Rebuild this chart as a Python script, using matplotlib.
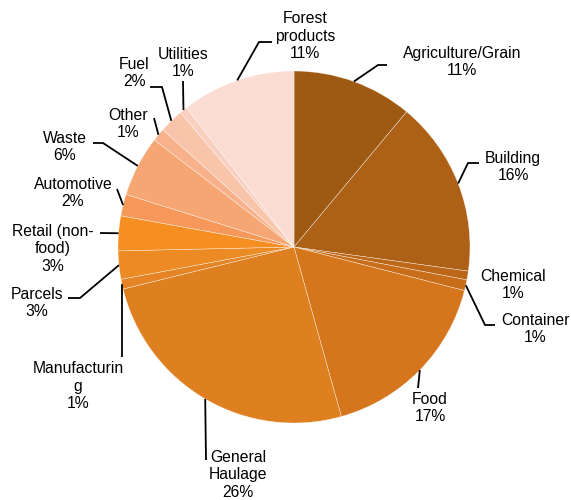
import numpy as np
import matplotlib
matplotlib.use('Agg')
import matplotlib.pyplot as plt

# slice data, clockwise from 12 o'clock
categories = ["Agriculture/Grain", "Building", "Chemical", "Container", "Food",
              "General\nHaulage", "Manufacturin\ng", "Parcels", "Retail (non-\nfood)",
              "Automotive", "Waste", "Other", "Fuel", "Utilities", "Forest\nproducts"]
shares = [11.1, 16.2, 0.8, 1.0, 16.75, 25.6, 0.9, 2.6, 3.2, 2.0, 5.6, 1.2, 2.25, 0.7, 10.5]
pct_labels = [11, 16, 1, 1, 17, 26, 1, 3, 3, 2, 6, 1, 2, 1, 11]
slice_colors = ["#9E5A12", "#AD6116", "#BC6718", "#C86D1A", "#D6761C", "#DF8020",
                "#E48424", "#EC8A24", "#F68E22", "#F5985A", "#F5A672", "#F7B28C",
                "#F8C4AA", "#F9D0C0", "#FADCD2"]

# label layout in pixel coords: text centre, leader elbow points (None = no leader)
label_pos = [(462, 62), (513, 167), (513, 285), (535, 329), (430, 408),
             (238, 475), (78, 386), (37, 303), (53, 249),
             (73, 193), (65, 147), (128, 124), (134, 73), (183, 63), (305, 36)]
leader_pts = [[(378, 65), (387, 65)], [(468, 163), (479, 163)], None,
              [(485, 325), (495, 325)], [(418, 388)],
              [(206, 460)], [(122, 357)], [(80, 298), (68, 298)], [(100, 233)],
              [(117, 189)], [(103, 143), (93, 143)], [(154, 118)],
              [(162, 87), (150, 87)], [(183, 81)], [(259, 42), (272, 42)]]

W, H = 571, 500
CX, CY, R = 294, 247, 176

fig = plt.figure(figsize=(W / 100, H / 100), dpi=100)
ax = fig.add_axes([0, 0, 1, 1])

wedges, _ = ax.pie(shares, colors=slice_colors, startangle=90, counterclock=False,
                   center=(CX, H - CY), radius=R,
                   wedgeprops=dict(edgecolor=(1, 1, 1, 0.7), linewidth=0.35))

for w, name, pct, (tx, ty), pts in zip(wedges, categories, pct_labels, label_pos, leader_pts):
    ax.text(tx, H - ty, f"{name}\n{pct}%", ha='center', va='center',
            fontsize=11.3, family='Liberation Sans', linespacing=1.22, color='black')
    if pts is None:
        continue
    mid = np.deg2rad((w.theta1 + w.theta2) / 2)
    sx = CX + R * np.cos(mid)
    sy = (H - CY) + R * np.sin(mid)
    xs = [sx] + [p[0] for p in pts]
    ys = [sy] + [H - p[1] for p in pts]
    ax.plot(xs, ys, color='black', linewidth=1.3, solid_capstyle='butt')

ax.set_aspect('auto')
ax.set_xlim(0, W)
ax.set_ylim(0, H)
ax.axis('off')
fig.savefig('out.png', dpi=100)
